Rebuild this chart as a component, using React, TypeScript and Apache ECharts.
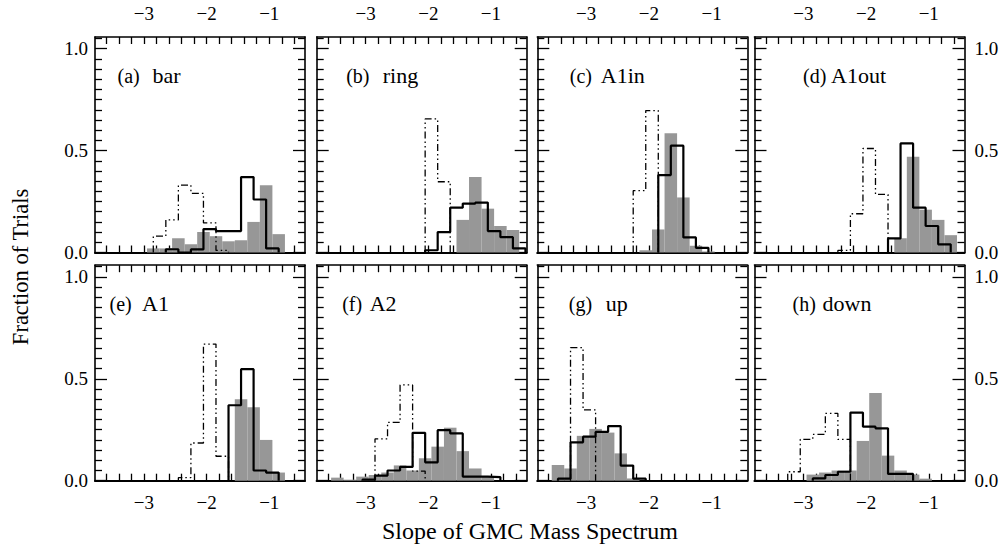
import React, { useEffect, useRef } from 'react';
import * as echarts from 'echarts';

// ---------- data ----------
const BIN = 0.2; // histogram bin width (slope units)

const panelTags = ['(a)', '(b)', '(c)', '(d)', '(e)', '(f)', '(g)', '(h)'];
const panelNames = ['bar', 'ring', 'A1in', 'A1out', 'A1', 'A2', 'up', 'down'];

// left edge of first bin for each histogram
const grayStarts = [-2.95, -1.55, -2.15, -1.55, -1.55, -3.55, -3.55, -2.95];
const solidStarts = [-2.65, -2.05, -1.85, -1.65, -1.65, -3.05, -3.45, -2.85];
const dashStarts = [-2.85, -2.05, -2.25, -2.45, -2.45, -2.85, -3.25, -3.25];

// (a) bar
const barGray = [0.02, 0.02, 0.07, 0.04, 0.1, 0.08, 0.055, 0.06, 0.15, 0.33, 0.09];
const barSolid = [0.016, 0, 0.015, 0.115, 0.105, 0.105, 0.37, 0.26, 0.02];
const barDash = [0.08, 0.16, 0.33, 0.29, 0.145, 0.01];
// (b) ring
const ringGray = [0.16, 0.37, 0.215, 0.13, 0.11];
const ringSolid = [0.011, 0.1, 0.22, 0.24, 0.245, 0.105, 0.075, 0.02];
const ringDash = [0.655, 0.347];
// (c) A1in
const a1inGray = [0.011, 0.113, 0.585, 0.27, 0.033, 0.005];
const a1inSolid = [0.38, 0.524, 0.074, 0.023];
const a1inDash = [0.303, 0.696];
// (d) A1out
const a1outGray = [0.07, 0.47, 0.21, 0.16, 0.085];
const a1outSolid = [0.069, 0.535, 0.22, 0.13, 0.04];
const a1outDash = [0.01, 0.19, 0.51, 0.285];
// (e) A1
const a1Gray = [0.4, 0.36, 0.2, 0.04];
const a1Solid = [0.37, 0.547, 0.05, 0.04];
const a1Dash = [0.015, 0.185, 0.67, 0.12];
// (f) A2
const a2Gray = [0.015, 0.005, 0.02, 0.028, 0.04, 0.075, 0.05, 0.11, 0.167, 0.26, 0.145, 0.06, 0.02];
const a2Solid = [0.005, 0.025, 0.05, 0.068, 0.235, 0.09, 0.248, 0.232, 0.02, 0.02, 0.018];
const a2Dash = [0.205, 0.286, 0.47, 0.047];
// (g) up
const upGray = [0.077, 0.06, 0.22, 0.254, 0.236, 0.134, 0.011];
const upSolid = [0.01, 0.188, 0.216, 0.239, 0.268, 0.074, 0.01];
const upDash = [0.653, 0.347];
// (h) down
const downGray = [0.03, 0.04, 0.05, 0.05, 0.195, 0.43, 0.123, 0.05, 0.03, 0.01];
const downSolid = [0.011, 0.028, 0.044, 0.334, 0.265, 0.257, 0.033, 0.033];
const downDash = [0.044, 0.203, 0.227, 0.33, 0.203];

const grayVals = [barGray, ringGray, a1inGray, a1outGray, a1Gray, a2Gray, upGray, downGray];
const solidVals = [barSolid, ringSolid, a1inSolid, a1outSolid, a1Solid, a2Solid, upSolid, downSolid];
const dashVals = [barDash, ringDash, a1inDash, a1outDash, a1Dash, a2Dash, upDash, downDash];

// ticks
const xTicks = [-3.6, -3.4, -3.2, -3.0, -2.8, -2.6, -2.4, -2.2, -2.0, -1.8, -1.6, -1.4, -1.2, -1.0, -0.8, -0.6];
const xLabels = [-3, -2, -1];
const yMajor = [0, 0.5, 1.0];
const yMinor = [0.05, 0.1, 0.15, 0.2, 0.25, 0.3, 0.35, 0.4, 0.45, 0.55, 0.6, 0.65, 0.7, 0.75, 0.8, 0.85, 0.9, 0.95, 1.05];

const X_MIN = -3.78;
const X_MAX = -0.43;
const Y_MAX = 1.057;

// ---------- layout ----------
const COL_LEFT = [95, 316.7, 537.3, 754.5];
const ROW_TOP = [37, 265.2];
const PW = 210;
const PH = 215.5;
const FONT = "'Liberation Serif', 'DejaVu Serif', serif";
const tagOffsets = [[22.5, 57.5], [29.5, 66], [32.5, 63.5], [48.5, 76.5], [14.5, 47], [25.5, 53], [31.5, 68.5], [38, 68]];

function fmtX(v: number) {
  return v < 0 ? '\u2212' + Math.abs(v) : String(v);
}

function stepData(start: number, vals: number[]) {
  const d: number[][] = [[start, 0]];
  vals.forEach((v, i) => d.push([start + i * BIN, v]));
  d.push([start + vals.length * BIN, 0]);
  return d;
}

function buildOption() {
  const grid: any[] = [];
  const xAxis: any[] = [];
  const yAxis: any[] = [];
  const series: any[] = [];
  const graphic: any[] = [];

  for (let i = 0; i < 8; i++) {
    const r = Math.floor(i / 4);
    const c = i % 4;
    grid.push({ left: COL_LEFT[c], top: ROW_TOP[r], width: PW, height: PH, containLabel: false });

    const xBase = (pos: string, showLabel: boolean, lw: number) => ({
      gridIndex: i,
      type: 'value',
      position: pos,
      min: X_MIN,
      max: X_MAX,
      axisLine: { show: true, onZero: false, lineStyle: { color: '#000', width: lw } },
      axisTick: { show: true, inside: true, length: 7, customValues: xTicks, lineStyle: { color: '#000', width: 1.3 } },
      axisLabel: {
        show: showLabel,
        customValues: xLabels,
        formatter: fmtX,
        margin: pos === 'top' ? 14 : 12,
        color: '#000',
        fontSize: 19,
        fontFamily: FONT,
      },
      splitLine: { show: false },
    });
    xAxis.push(xBase('bottom', r === 1, 2.2));
    xAxis.push(xBase('top', r === 0, 1.6));

    const yBase = (pos: string, major: boolean, showLabel: boolean) => ({
      gridIndex: i,
      type: 'value',
      position: pos,
      min: 0,
      max: Y_MAX,
      axisLine: { show: major, onZero: false, lineStyle: { color: '#000', width: 1.6 } },
      axisTick: {
        show: true,
        inside: true,
        length: major ? 12 : 7,
        customValues: major ? yMajor : yMinor,
        lineStyle: { color: '#000', width: 1.3 },
      },
      axisLabel: {
        show: showLabel,
        customValues: yMajor,
        formatter: (v: number) => v.toFixed(1),
        margin: pos === 'left' ? 7 : 10,
        color: '#000',
        fontSize: 19,
        fontFamily: FONT,
      },
      splitLine: { show: false },
    });
    yAxis.push(yBase('left', true, c === 0));
    yAxis.push(yBase('left', false, false));
    yAxis.push(yBase('right', true, c === 3));
    yAxis.push(yBase('right', false, false));

    const gStart = grayStarts[i];
    const gData = grayVals[i].map((v, k) => [gStart + k * BIN, gStart + (k + 1) * BIN, v]);
    series.push({
      type: 'custom',
      coordinateSystem: 'cartesian2d',
      xAxisIndex: 2 * i,
      yAxisIndex: 4 * i,
      data: gData,
      encode: { x: [0, 1], y: 2 },
      silent: true,
      z: 1,
      renderItem: (params: any, api: any) => {
        const p0 = api.coord([api.value(0), api.value(2)]);
        const p1 = api.coord([api.value(1), 0]);
        return {
          type: 'rect',
          shape: { x: p0[0], y: p0[1], width: p1[0] - p0[0], height: p1[1] - p0[1] },
          style: { fill: '#979797' },
        };
      },
    });
    series.push({
      type: 'line',
      xAxisIndex: 2 * i,
      yAxisIndex: 4 * i,
      step: 'end',
      symbol: 'none',
      silent: true,
      z: 4,
      data: stepData(dashStarts[i], dashVals[i]),
      lineStyle: { color: '#000', width: 1.3, type: [7, 3, 1.5, 3, 1.5, 3] },
    });
    series.push({
      type: 'line',
      xAxisIndex: 2 * i,
      yAxisIndex: 4 * i,
      step: 'end',
      symbol: 'none',
      silent: true,
      z: 5,
      data: stepData(solidStarts[i], solidVals[i]),
      lineStyle: { color: '#000', width: 2.2 },
    });

    const ty = ROW_TOP[r] + 38.5;
    graphic.push({
      type: 'text',
      x: COL_LEFT[c] + tagOffsets[i][0],
      y: ty,
      style: { text: panelTags[i], font: `20px ${FONT}`, fill: '#000', textVerticalAlign: 'middle' },
    });
    graphic.push({
      type: 'text',
      x: COL_LEFT[c] + tagOffsets[i][1],
      y: ty,
      style: { text: panelNames[i], font: `22px ${FONT}`, fill: '#000', textVerticalAlign: 'middle' },
    });
  }

  graphic.push({
    type: 'text',
    x: 20,
    y: 267,
    rotation: Math.PI / 2,
    style: { text: 'Fraction of Trials', font: `22.5px ${FONT}`, fill: '#000', textAlign: 'center', textVerticalAlign: 'middle' },
  });
  graphic.push({
    type: 'text',
    x: 530,
    y: 531,
    style: { text: 'Slope of GMC Mass Spectrum', font: `24px ${FONT}`, fill: '#000', textAlign: 'center', textVerticalAlign: 'middle' },
  });

  return {
    animation: false,
    backgroundColor: '#fff',
    grid,
    xAxis,
    yAxis,
    series,
    graphic,
  };
}

export default function App() {
  const ref = useRef<HTMLDivElement>(null);
  useEffect(() => {
    if (!ref.current) return;
    const chart = echarts.init(ref.current, undefined, { renderer: 'svg' });
    chart.setOption(buildOption() as any);
    return () => chart.dispose();
  }, []);
  return (
    <div
      ref={ref}
      style={{ position: 'fixed', left: 0, top: 0, width: 1005, height: 546, background: '#fff' }}
    />
  );
}
